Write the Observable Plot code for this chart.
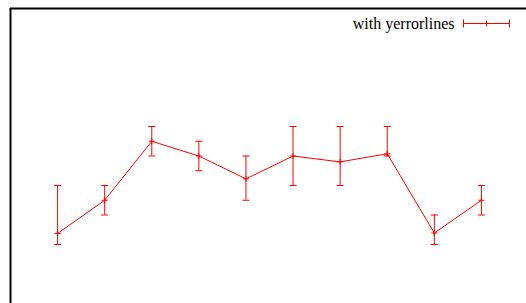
<!DOCTYPE html>
<html><head><meta charset="utf-8">
<script src="https://cdn.jsdelivr.net/npm/d3@7"></script>
<script src="https://cdn.jsdelivr.net/npm/@observablehq/plot@0.6"></script>
<style>html,body{margin:0;padding:0;overflow:hidden;background:#fff}</style>
</head><body><div id="chart"></div>
<script>
// Data
const xs    = [1, 2, 3, 4, 5, 6, 7, 8, 9, 10];
const ys    = [1.75, 4, 8, 7, 5.45, 7, 6.6, 7.15, 1.78, 4];
const yLow  = [1, 3, 7, 6, 4, 5, 5, 7, 1, 3];
const yHigh = [5, 5, 9, 8, 7, 9, 9, 9, 3, 5];
const xDomain = [0, 11];
const yDomain = [-3, 17];
const legendLabel = "with yerrorlines";

const data = xs.map((x, i) => ({x, y: ys[i], lo: yLow[i], hi: yHigh[i]}));

const hbar = {draw(ctx, size) { const r = Math.sqrt(size / Math.PI); ctx.moveTo(-r, 0); ctx.lineTo(r, 0); }};
const plus = {draw(ctx, size) { const r = Math.sqrt(size / Math.PI); ctx.moveTo(-r, 0); ctx.lineTo(r, 0); ctx.moveTo(0, -r); ctx.lineTo(0, r); }};
const legendGlyph = {draw(ctx) {
  ctx.moveTo(-23, 0); ctx.lineTo(23, 0);
  ctx.moveTo(-23, -4); ctx.lineTo(-23, 4);
  ctx.moveTo(23, -4); ctx.lineTo(23, 4);
  ctx.moveTo(0, -3); ctx.lineTo(0, 3);
}};

const red = "#ff0000";
const chart = Plot.plot({
  width: 526, height: 303,
  marginLeft: 10, marginTop: 8, marginRight: -2, marginBottom: 0,
  x: {domain: xDomain, axis: null},
  y: {domain: yDomain, axis: null},
  style: {overflow: "hidden", maxWidth: "none", background: "#fff"},
  marks: [
    Plot.ruleX(data, {x: "x", y1: "lo", y2: "hi", stroke: red, strokeWidth: 1}),
    Plot.dot(data, {x: "x", y: "lo", symbol: hbar, r: 3.5, stroke: red, fill: "none", strokeWidth: 1}),
    Plot.dot(data, {x: "x", y: "hi", symbol: hbar, r: 3.5, stroke: red, fill: "none", strokeWidth: 1}),
    Plot.line(data, {x: "x", y: "y", stroke: red, strokeWidth: 1}),
    Plot.dot(data, {x: "x", y: "y", symbol: plus, r: 3, stroke: red, fill: "none", strokeWidth: 1}),
    Plot.text([legendLabel], {text: d => d, frameAnchor: "top-right", textAnchor: "end", lineAnchor: "middle",
      dx: -74, dy: 15, fontFamily: "Liberation Serif", fontSize: 16, fill: "#000"}),
    Plot.dot([legendLabel], {frameAnchor: "top-right", dx: -42, dy: 15, symbol: legendGlyph, r: 5, stroke: red, fill: "none", strokeWidth: 1}),
    Plot.ruleX([xDomain[0]], {stroke: "#000", strokeWidth: 2}),
    Plot.ruleY([yDomain[1]], {stroke: "#000", strokeWidth: 2})
  ]
});
document.getElementById("chart").appendChild(chart);
</script>
</body></html>
